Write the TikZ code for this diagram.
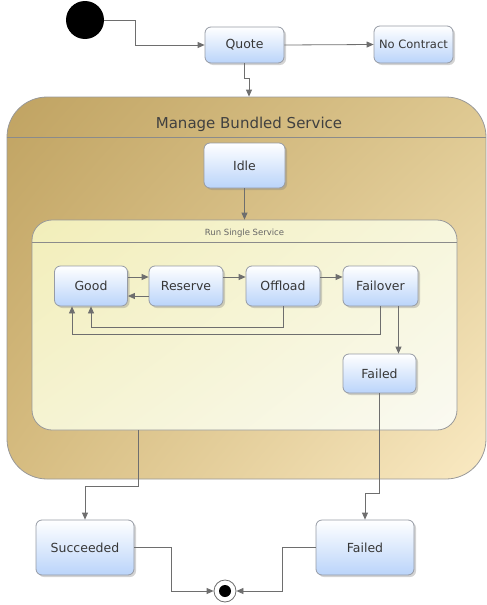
\documentclass[tikz,border=0pt]{standalone}
\usepackage{fontspec}
\setmainfont{DejaVu Sans}
\usetikzlibrary{arrows.meta,shadows,shadings,calc}
\definecolor{lineg}{RGB}{110,110,110}
\definecolor{boxb}{RGB}{150,155,165}
\definecolor{boxbot}{RGB}{186,212,250}
\definecolor{txt}{RGB}{55,55,55}
\definecolor{tanA}{RGB}{192,163,98}
\definecolor{tanB}{RGB}{222,200,145}
\definecolor{tanC}{RGB}{214,188,128}
\definecolor{tanD}{RGB}{250,234,195}
\definecolor{crA}{RGB}{242,238,185}
\definecolor{crB}{RGB}{247,246,220}
\definecolor{crC}{RGB}{245,243,210}
\definecolor{crD}{RGB}{250,250,242}
\tikzset{
  statebox/.style={draw=boxb, line width=0.8pt, rounded corners=6pt, top color=white, bottom color=boxbot,
    text=txt, font=\fontsize{12.5}{14}\selectfont, inner sep=0pt,
    drop shadow={opacity=0.35, shadow xshift=2pt, shadow yshift=-2pt}},
  arr/.style={draw=lineg, line width=0.8pt, -{Triangle[length=7pt,width=6pt]}},
  sep/.style={draw=lineg!80, line width=0.7pt},
}
\begin{document}
\begin{tikzpicture}[x=1pt,y=-1pt]
\useasboundingbox (0,0) rectangle (487,605);
\coordinate (sepo) at (0,137);
\coordinate (sepi) at (0,242);
% outer container
\node[draw=lineg!70, line width=0.8pt, rounded corners=40pt, minimum width=479pt, minimum height=382pt,
  upper left=tanA, upper right=tanB, lower left=tanC, lower right=tanD, inner sep=0pt] (outer) at (246.5,288) {};
\draw[sep] (outer.west |- sepo) -- (outer.east |- sepo);
\node[text=black!75, font=\fontsize{15}{17}\selectfont] (otitle) at (249,124) {Manage Bundled Service};
% inner container
\node[draw=lineg!70, line width=0.8pt, rounded corners=20pt, minimum width=425pt, minimum height=210pt,
  upper left=crA, upper right=crB, lower left=crC, lower right=crD, inner sep=0pt] (inner) at (244.5,325) {};
\draw[sep] (inner.west |- sepi) -- (inner.east |- sepi);
\node[text=black!60, font=\fontsize{8.5}{10}\selectfont] (ititle) at (244.5,233) {Run Single Service};
% initial
\node[circle, fill=black, minimum size=38pt, inner sep=0pt] (init) at (85,20) {};
% states
\node[statebox, minimum width=79pt, minimum height=36pt] (quote) at (244.5,45) {Quote};
\node[statebox, minimum width=79pt, minimum height=37pt, font=\fontsize{11.5}{13}\selectfont] (nocon) at (413.5,44.5) {No Contract};
\node[statebox, minimum width=81pt, minimum height=45pt] (idle) at (244.5,165.5) {Idle};
\node[statebox, minimum width=73pt, minimum height=40pt] (good) at (91,286) {Good};
\node[statebox, minimum width=74pt, minimum height=40pt] (reserve) at (186,286) {Reserve};
\node[statebox, minimum width=74pt, minimum height=40pt] (offload) at (283,286) {Offload};
\node[statebox, minimum width=75pt, minimum height=40pt] (failover) at (380.5,286) {Failover};
\node[statebox, minimum width=73pt, minimum height=39pt] (failedi) at (379.5,373.5) {Failed};
\node[statebox, minimum width=98pt, minimum height=55pt] (succ) at (85,547.5) {Succeeded};
\node[statebox, minimum width=98pt, minimum height=55pt] (failedo) at (365,547.5) {Failed};
% final
\node[circle, draw=lineg, line width=0.8pt, fill=white, minimum size=22pt, inner sep=0pt] (final) at (225,591) {};
\node[circle, fill=black, minimum size=12pt, inner sep=0pt] (finaldot) at (final.center) {};
% connectors
\draw[arr] (init.east) -- ++(31,0) |- (quote.west);
\draw[arr] (quote.east) -- (nocon.west);
\draw[arr] (quote.south) -- ++(0,15) -| ([xshift=2.5pt]outer.north);
\draw[arr] (idle.south) -- (inner.north);
\draw[arr] ([yshift=9pt]good.east) -- ([yshift=9pt]reserve.west);
\draw[arr] ([yshift=-10pt]reserve.west) -- ([yshift=-10pt]good.east);
\draw[arr] ([yshift=9pt]reserve.east) -- ([yshift=9pt]offload.west);
\draw[arr] ([yshift=9pt]offload.east) -- ([yshift=9pt]failover.west);
\draw[arr] (offload.south) -- ++(0,21) -| (good.south);
\draw[arr] (failover.south) -- ++(0,28) -| ([xshift=-19pt]good.south);
\draw[arr] ([xshift=18pt]failover.south) -- ([xshift=18pt]failover.south |- failedi.north);
\draw[arr] (failedi.south) -- ++(0,100) -| (failedo.north);
\draw[arr] ([xshift=-106pt]inner.south) -- ++(0,56) -| (succ.north);
\draw[arr] (succ.east) -- ++(37,0) |- (final.west);
\draw[arr] (failedo.west) -- ++(-33,0) |- (final.east);
\end{tikzpicture}
\end{document}
